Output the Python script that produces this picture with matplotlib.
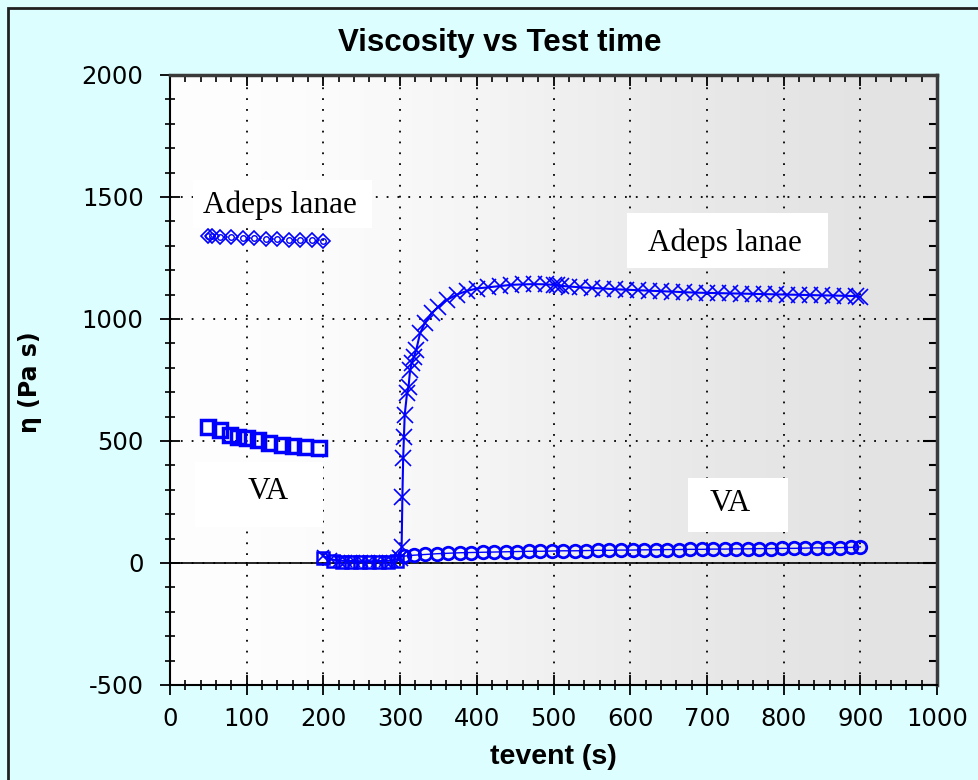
import matplotlib
matplotlib.use("Agg")
import matplotlib.pyplot as plt
from matplotlib.colors import LinearSegmentedColormap
from matplotlib.patches import Rectangle
from matplotlib.ticker import MultipleLocator

plt.rcParams["axes.unicode_minus"] = False

# Adeps lanae, first interval (diamond markers)
adeps_t1 = [50, 55, 65, 80, 95, 110, 125, 140, 155, 170, 185, 200]
adeps_eta1 = [1340, 1342, 1338, 1336, 1333, 1330, 1328, 1326, 1325, 1323, 1322, 1320]

# VA, first interval (square markers)
va_t1 = [50, 65, 78, 89, 100, 115, 129, 146, 160, 176, 194]
va_eta1 = [559, 545, 525, 518, 511, 504, 491, 484, 481, 477, 471]

# low shear interval 200-300
adeps_t2 = [200, 210, 220, 230, 240, 250, 260, 270, 280, 290, 300]
adeps_eta2 = [28, 15, 10, 8, 8, 7, 7, 8, 8, 10, 20]
va_t2 = [200, 212, 224, 236, 248, 260, 272, 284, 296]
va_eta2 = [20, 8, 5, 5, 5, 5, 5, 6, 8]

# Adeps lanae, recovery interval (x markers)
adeps_t3 = [300, 302, 303, 304, 305, 306, 309, 311, 313, 315, 318, 321, 326, 332,
            341, 350, 361, 374, 387, 400, 415, 430, 445, 460, 475, 490, 500, 505,
            510, 520, 535, 550, 565, 580, 595, 610, 625, 640, 655, 670, 685, 700,
            715, 730, 745, 760, 775, 790, 805, 820, 835, 850, 865, 880, 895, 900]
adeps_eta3 = [20, 67, 272, 429, 518, 607, 695, 722, 790, 818, 845, 873, 941, 982,
              1023, 1050, 1078, 1100, 1115, 1125, 1130, 1135, 1140, 1142, 1143, 1142,
              1140, 1138, 1136, 1133, 1130, 1127, 1125, 1122, 1120, 1118, 1116, 1114,
              1112, 1110, 1108, 1107, 1106, 1105, 1104, 1103, 1102, 1101, 1100, 1099,
              1098, 1097, 1096, 1095, 1094, 1090]

# VA, recovery interval (circle markers)
va_t3 = [305, 318, 333, 348, 363, 378, 393, 408, 423, 438, 453, 468, 483, 498,
         513, 528, 543, 558, 573, 588, 603, 618, 633, 648, 663, 678, 693, 708,
         723, 738, 753, 768, 783, 798, 813, 828, 843, 858, 873, 888, 900]
va_eta3 = [28, 32, 35, 38, 40, 42, 43, 44, 45, 46, 47, 48, 48, 49, 50, 50, 51, 52,
           52, 53, 53, 54, 54, 55, 55, 56, 56, 57, 57, 58, 58, 59, 59, 60, 60, 61,
           62, 62, 63, 64, 66]

blue = "#0000ff"
tick_font = "DejaVu Sans"

fig = plt.figure(figsize=(9.79, 7.80), dpi=100)
fig.patch.set_facecolor("#dcfefe")
# frame line on the left and top
fig.add_artist(Rectangle((8 / 979, -0.1), 1.2, 1.1 - 8 / 780, transform=fig.transFigure,
                         fill=False, edgecolor="#202020", linewidth=2))

ax = fig.add_axes([170 / 979, 1 - 685 / 780, (937 - 170) / 979, (685 - 75) / 780])
ax.set_xlim(0, 1000)
ax.set_ylim(-500, 2000)

# plot area gradient: white -> light grey
cmap = LinearSegmentedColormap.from_list("bg", ["#ffffff", "#e2e2e2"])
ax.imshow([[0, 1], [0, 1]], cmap=cmap, aspect="auto", extent=[0, 1, 0, 1],
          transform=ax.transAxes, interpolation="bicubic", zorder=0)

ax.grid(True, which="major", color="black", linestyle=(0, (1, 5)), linewidth=1.3)
ax.axhline(0, color="black", linewidth=1.2, zorder=1)

ax.plot(adeps_t1, adeps_eta1, linestyle="none", marker="D", ms=7, mfc="none",
        mec=blue, mew=1.2)
ax.plot(adeps_t1, adeps_eta1, linestyle="none", marker="o", ms=4, mfc="none",
        mec=blue, mew=1.0)
ax.plot(va_t1, va_eta1, linestyle="none", marker="s", ms=10, mfc="none",
        mec=blue, mew=2.5)
ax.plot(adeps_t2, adeps_eta2, color=blue, linewidth=1.5, marker="x", ms=9, mew=1.2)
ax.plot(va_t2, va_eta2, linestyle="none", marker="s", ms=9, mfc="none",
        mec=blue, mew=1.8)
ax.plot(adeps_t3, adeps_eta3, color=blue, linewidth=1.5, marker="x", ms=11, mew=1.2)
ax.plot(va_t3, va_eta3, color=blue, linewidth=1.0, marker="o", ms=9, mfc="none",
        mec=blue, mew=2.0)

# white label boxes (data coords: x0, y0, width, height)
for x0, y0, w, h in [(30, 1373, 233, 197), (596, 1209, 262, 225),
                     (33, 148, 166, 266), (675, 127, 131, 221)]:
    ax.add_patch(Rectangle((x0, y0), w, h, facecolor="white", edgecolor="none", zorder=3))

label_kw = dict(fontsize=22.5, family="Liberation Serif", ha="center", va="center",
                zorder=4)
ax.text(143, 1467, "Adeps lanae", **label_kw)
ax.text(724, 1311, "Adeps lanae", **label_kw)
ax.text(128, 295, "VA", **label_kw)
ax.text(730, 242, "VA", **label_kw)

ax.xaxis.set_major_locator(MultipleLocator(100))
ax.xaxis.set_minor_locator(MultipleLocator(20))
ax.yaxis.set_major_locator(MultipleLocator(500))
ax.yaxis.set_minor_locator(MultipleLocator(100))
ax.tick_params(axis="both", which="major", direction="inout", length=14, width=1.3,
               labelsize=17.5)
ax.tick_params(axis="x", which="major", pad=9)
ax.tick_params(axis="y", which="major", pad=12)
ax.tick_params(axis="both", which="minor", direction="inout", length=7, width=1.2)
for lab in ax.get_xticklabels() + ax.get_yticklabels():
    lab.set_family(tick_font)

for side in ["left", "bottom"]:
    ax.spines[side].set_linewidth(1.5)
for side in ["top", "right"]:
    ax.spines[side].set_linewidth(2.5)
    ax.spines[side].set_color("#3a3a3a")

top = ax.secondary_xaxis("top")
top.xaxis.set_major_locator(MultipleLocator(100))
top.xaxis.set_minor_locator(MultipleLocator(20))
top.tick_params(which="major", direction="in", length=8, width=1.3, labeltop=False)
top.tick_params(which="minor", direction="in", length=5, width=1.2)
top.spines["top"].set_visible(False)
right = ax.secondary_yaxis("right")
right.yaxis.set_major_locator(MultipleLocator(500))
right.yaxis.set_minor_locator(MultipleLocator(100))
right.tick_params(which="major", direction="in", length=10, width=1.5, labelright=False)
right.tick_params(which="minor", direction="in", length=6, width=1.5)
right.spines["right"].set_visible(False)

fig.text(500 / 979, 1 - 43 / 780, "Viscosity vs Test time", fontsize=22.5,
         fontweight="bold", family="Liberation Sans", ha="center", va="center")
fig.text(553 / 979, 1 - 757 / 780, "tevent (s)", fontsize=20.5, fontweight="bold",
         family="Liberation Sans", ha="center", va="center")
fig.text(30 / 979, 1 - 382 / 780, "η (Pa s)", fontsize=17, fontweight="bold",
         family="DejaVu Sans", ha="center", va="center", rotation=90)

fig.savefig("out.png", dpi=100, facecolor=fig.get_facecolor())
